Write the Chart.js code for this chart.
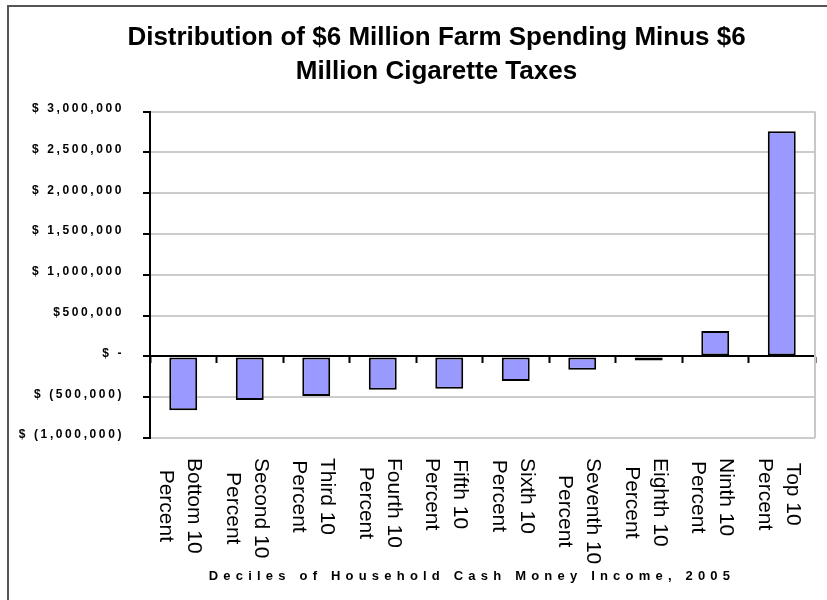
<!DOCTYPE html>
<html>
<head>
<meta charset="utf-8">
<script src="https://cdn.jsdelivr.net/npm/chart.js@4"></script>
<style>
  body { margin: 0; background: #fff; }
</style>
</head>
<body>
<canvas id="myChart" width="827" height="600"></canvas>
<script>
// chart data
var titleLines = ['Distribution of $6 Million Farm Spending Minus $6', 'Million Cigarette Taxes'];
var categories = [
  ['Bottom 10', 'Percent'], ['Second 10', 'Percent'], ['Third 10', 'Percent'],
  ['Fourth 10', 'Percent'], ['Fifth 10', 'Percent'], ['Sixth 10', 'Percent'],
  ['Seventh 10', 'Percent'], ['Eighth 10', 'Percent'], ['Ninth 10', 'Percent'],
  ['Top 10', 'Percent']
];
var netSpending = [-660000, -535000, -485000, -410000, -395000, -300000, -165000, -50000, 310000, 2760000];
var yTickValues = [3000000, 2500000, 2000000, 1500000, 1000000, 500000, 0, -500000, -1000000];
var yTickLabels = ['$ 3,000,000', '$ 2,500,000', '$ 2,000,000', '$ 1,500,000', '$ 1,000,000',
  '$500,000', '$ -', '$ (500,000)', '$ (1,000,000)'];
var xAxisTitle = 'Deciles of Household Cash Money Income, 2005';

// frame, plot border and the rotated / spaced texts
var extras = {
  id: 'extras',
  beforeDraw: function (chart) {
    var c = chart.ctx;
    c.save();
    c.fillStyle = '#fff';
    c.fillRect(0, 0, chart.width, chart.height);
    c.strokeStyle = '#555';
    c.lineWidth = 2;
    c.beginPath();
    c.moveTo(8, chart.height + 2);
    c.lineTo(8, 6);
    c.lineTo(chart.width + 2, 6);
    c.stroke();
    c.restore();
  },
  beforeDatasetsDraw: function (chart) {
    var a = chart.chartArea, c = chart.ctx;
    c.save();
    c.strokeStyle = '#c8c8c8';
    c.lineWidth = 2;
    c.beginPath();
    c.moveTo(a.right, a.top);
    c.lineTo(a.right, a.bottom);
    c.stroke();
    c.restore();
  },
  afterDraw: function (chart) {
    var c = chart.ctx, x = chart.scales.x, y = chart.scales.y;
    c.save();
    c.fillStyle = '#000';

    // y tick labels
    c.font = 'bold 12px Arial, "Liberation Sans"';
    c.letterSpacing = '2.6px';
    c.textAlign = 'right';
    c.textBaseline = 'middle';
    for (var i = 0; i < yTickValues.length; i++) {
      c.fillText(yTickLabels[i], 124, y.getPixelForValue(yTickValues[i]) - 3);
    }

    // category labels, turned to read downwards
    c.letterSpacing = '0px';
    c.font = '21px Arial, "Liberation Sans"';
    c.textAlign = 'center';
    c.textBaseline = 'alphabetic';
    for (var j = 0; j < categories.length; j++) {
      var lines = categories[j];
      var maxW = 0;
      lines.forEach(function (s) { maxW = Math.max(maxW, c.measureText(s).width); });
      var cx = x.getPixelForValue(j);
      c.save();
      c.translate(cx, 458 + maxW / 2);
      c.rotate(Math.PI / 2);
      c.fillText(lines[0], 0, -5);
      c.fillText(lines[1], 0, 23);
      c.restore();
    }

    // x axis title
    c.font = 'bold 13px Arial, "Liberation Sans"';
    c.letterSpacing = '5.2px';
    c.textAlign = 'center';
    c.textBaseline = 'middle';
    c.fillText(xAxisTitle, 472, 576);
    c.restore();
  }
};

var ctx = document.getElementById('myChart').getContext('2d');
var myChart = new Chart(ctx, {
  type: 'bar',
  data: {
    labels: categories,
    datasets: [{
      label: 'Net spending',
      data: netSpending,
      backgroundColor: '#9999ff',
      borderColor: '#000',
      borderWidth: 2,
      borderSkipped: false,
      barPercentage: 0.42,
      categoryPercentage: 1
    }]
  },
  options: {
    responsive: false,
    animation: false,
    layout: { padding: { left: 58, right: 12, top: 0, bottom: 162 } },
    plugins: {
      legend: { display: false },
      tooltip: { enabled: false },
      title: {
        display: true,
        text: titleLines,
        color: '#000',
        font: { family: 'Arial, "Liberation Sans"', size: 26, weight: 'bold', lineHeight: 1.3 },
        padding: { top: 21, bottom: 23 }
      }
    },
    scales: {
      x: {
        position: { y: 0 },
        offset: true,
        ticks: { display: false },
        grid: { drawOnChartArea: false, offset: true, tickLength: 6, tickColor: '#000', tickWidth: 2 },
        border: { color: '#000', width: 2 }
      },
      y: {
        min: -1000000,
        max: 3000000,
        ticks: { display: false, stepSize: 500000 },
        grid: {
          color: '#cccccc',
          lineWidth: 2,
          tickLength: 7,
          tickColor: '#000',
          tickWidth: 2
        },
        border: { color: '#000', width: 2 },
        afterFit: function (scale) { scale.width = 92; }
      }
    }
  },
  plugins: [extras]
});
</script>
</body>
</html>
